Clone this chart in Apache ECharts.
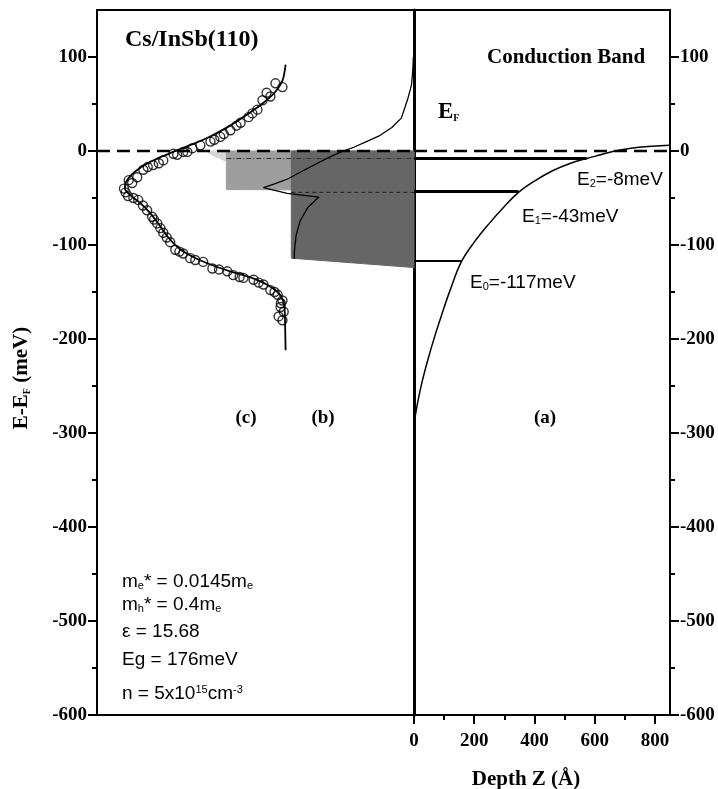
<!DOCTYPE html>
<html>
<head>
<meta charset="utf-8">
<script src="https://cdn.jsdelivr.net/npm/echarts@6/dist/echarts.min.js"></script>
<style>
html, body { margin: 0; padding: 0; background: #fff; }
#chart { width: 718px; height: 789px; }
</style>
</head>
<body>
<div id="chart"></div>
<script>
// tick values
const yMajor = [-600, -500, -400, -300, -200, -100, 0, 100]
const yMinor = [-550, -450, -350, -250, -150, -50, 50]
const xMajor = [0, 200, 400, 600, 800]
const xMinor = [100, 300, 500, 700]

// (c) photoemission spectrum: [intensity (arb.), E-EF meV]
const specPoints = [
  [56.3, 72], [58.5, 68], [53.5, 62], [54.7, 58], [52.2, 54], [50.6, 44], [49, 40], [47.8, 36],
  [45.3, 30], [44, 27], [42.1, 22], [40, 18], [38.9, 15], [37, 12], [35.8, 10], [32.6, 6],
  [30.1, 3], [28.5, -1], [27.2, -1], [24.1, -3], [25.3, -4], [20.9, -10], [19.5, -13], [17.7, -15],
  [16, -17], [14.6, -20], [12.7, -28], [10, -31], [11.1, -34], [8.5, -40], [9, -44], [9.8, -48],
  [11.5, -50], [13, -52], [14.5, -58], [15.8, -63], [17.4, -70], [18, -73], [19, -77], [20, -82],
  [20.9, -87], [22, -92], [23.1, -97], [24.7, -105], [26, -107], [27.2, -109], [29.4, -114], [31, -116],
  [33.5, -118], [36.4, -125], [38.5, -126], [41.1, -128], [43, -132], [45, -134], [46.2, -135], [49.4, -137],
  [51, -140], [52.5, -142], [54.7, -148], [56, -150], [57, -153], [58.5, -159], [58, -162], [57.9, -166],
  [58.9, -171], [57.3, -176], [58.5, -180]
]
// (c) fit curve
const specFit = [
  [59.5, 92], [58.5, 75], [56, 62], [52, 50], [47, 38], [42, 27], [36, 16], [30, 7], [24, -1],
  [19, -8], [14.5, -16], [11, -25], [9, -34], [8.8, -40], [10.5, -47], [13.5, -55], [16.5, -65],
  [19.5, -78], [22.5, -92], [26, -104], [30.5, -113], [36, -121], [42, -128], [48, -134], [53.5, -142],
  [57.5, -152], [59, -163], [59.3, -180], [59.4, -195], [59.5, -212]
]
// (b) charge density curve
const densityCurve = [
  [99.8, 100], [99.6, 85], [99.2, 70], [98, 55], [96, 35], [93, 25], [89, 16], [85, 10], [81, 4],
  [77, -1], [73, -7], [69, -14], [65, -21], [60, -30], [56, -35], [52.5, -39], [60, -45], [70, -49],
  [66.5, -60], [64, -75], [62.8, -90], [62.3, -105], [62.2, -115]
]
// (b) occupied subband areas (outlines)
const shadeE2 = [[34.8, 0], [40.8, 0], [40.8, -11], [36.7, -5], [34.8, -1]]
const shadeE1 = [[40.8, 0], [100, 0], [100, -42], [40.8, -41]]
const shadeE0 = [[61.3, 0], [100, 0], [100, -124], [61.3, -114]]
const levelDotE2 = [[40.8, -8], [100, -8]]
const levelDotE1 = [[61.3, -44], [100, -44]]

// (a) conduction band bending: [depth Å, E meV]
const bandCurve = [
  [0, -290], [13, -266], [28, -244], [47, -221], [68, -198], [90, -176], [120, -148], [157, -118],
  [200, -97], [250, -77], [300, -59], [347, -44], [400, -32], [460, -21], [520, -13], [573, -8],
  [620, -4], [667, 0], [720, 3], [790, 5], [850, 6]
]
const levelE2 = [[0, -8], [573, -8]]
const levelE1 = [[0, -43], [347, -43]]
const levelE0 = [[0, -117], [157, -117]]
const fermiLeft = [[0, 0], [100, 0]]
const fermiRight = [[0, 0], [850, 0]]

const serif = 'Liberation Serif'
const sans = 'Liberation Sans'
const tickLabel = { fontFamily: serif, fontWeight: 'bold', fontSize: 19, color: '#000' }
const noLine = { show: false, onZero: false }
const tickStyle = { color: '#000', width: 2 }

function polygonSeries (pts, fill, z) {
  return {
    type: 'custom',
    xAxisIndex: 0,
    yAxisIndex: 0,
    z: z,
    data: pts,
    renderItem: (params, api) => {
      if (params.dataIndex !== 0) return null
      return {
        type: 'polygon',
        shape: { points: pts.map(p => api.coord(p)) },
        style: { fill: fill, stroke: fill, lineWidth: 1 }
      }
    }
  }
}

function lineSeries (data, xi, yi, style, extra) {
  return Object.assign({
    type: 'line',
    xAxisIndex: xi,
    yAxisIndex: yi,
    data: data,
    showSymbol: false,
    symbol: 'none',
    lineStyle: Object.assign({ color: '#000', width: 1.3 }, style)
  }, extra || {})
}

function sub (t) { return '{s|' + t + '}' }
const subSans = { s: { fontFamily: sans, fontSize: 11, verticalAlign: 'bottom', lineHeight: 11 } }

const chart = echarts.init(document.getElementById('chart'))
chart.setOption({
  animation: false,
  backgroundColor: '#fff',
  grid: [
    { left: 97, top: 10, width: 317, height: 705, show: true, borderColor: '#000', borderWidth: 2 },
    { left: 414, top: 10, width: 256, height: 705, show: true, borderColor: '#000', borderWidth: 2 },
    // copies of the two panels that only carry the minor ticks
    { left: 97, top: 10, width: 317, height: 705 },
    { left: 414, top: 10, width: 256, height: 705 }
  ],
  xAxis: [
    { gridIndex: 0, type: 'value', min: 0, max: 100, axisLine: noLine, axisTick: { show: false }, axisLabel: { show: false }, splitLine: { show: false } },
    {
      gridIndex: 1, type: 'value', position: 'bottom', min: 0, max: 850,
      axisLine: { show: true, onZero: false, lineStyle: tickStyle },
      axisTick: { show: true, customValues: xMajor, length: 9, lineStyle: tickStyle },
      axisLabel: Object.assign({ customValues: xMajor, margin: 17 }, tickLabel),
      splitLine: { show: false }
    },
    { gridIndex: 2, type: 'value', min: 0, max: 100, axisLine: noLine, axisTick: { show: false }, axisLabel: { show: false }, splitLine: { show: false } },
    {
      gridIndex: 3, type: 'value', position: 'bottom', min: 0, max: 850,
      axisLine: noLine,
      axisTick: { show: true, customValues: xMinor, length: 5, lineStyle: tickStyle },
      axisLabel: { show: false },
      splitLine: { show: false }
    }
  ],
  yAxis: [
    {
      gridIndex: 0, type: 'value', position: 'left', min: -600, max: 150,
      axisLine: { show: true, onZero: false, lineStyle: tickStyle },
      axisTick: { show: true, customValues: yMajor, length: 9, lineStyle: tickStyle },
      axisLabel: Object.assign({ customValues: yMajor, margin: 10 }, tickLabel),
      splitLine: { show: false }
    },
    {
      gridIndex: 1, type: 'value', position: 'right', min: -600, max: 150,
      axisLine: { show: true, onZero: false, lineStyle: tickStyle },
      axisTick: { show: true, customValues: yMajor, length: 9, lineStyle: tickStyle },
      axisLabel: Object.assign({ customValues: yMajor, margin: 10 }, tickLabel),
      splitLine: { show: false }
    },
    {
      gridIndex: 1, type: 'value', position: 'left', min: -600, max: 150,
      axisLine: { show: true, onZero: false, lineStyle: { color: '#000', width: 3 } },
      axisTick: { show: false }, axisLabel: { show: false }, splitLine: { show: false }
    },
    {
      gridIndex: 2, type: 'value', position: 'left', min: -600, max: 150,
      axisLine: noLine,
      axisTick: { show: true, customValues: yMinor, length: 5, lineStyle: tickStyle },
      axisLabel: { show: false },
      splitLine: { show: false }
    },
    {
      gridIndex: 3, type: 'value', position: 'right', min: -600, max: 150,
      axisLine: noLine,
      axisTick: { show: true, customValues: yMinor, length: 5, lineStyle: tickStyle },
      axisLabel: { show: false },
      splitLine: { show: false }
    }
  ],
  series: [
    polygonSeries(shadeE2, '#d6d6d6', 1),
    polygonSeries(shadeE1, '#9e9e9e', 2),
    polygonSeries(shadeE0, '#666666', 3),
    lineSeries(levelDotE2, 0, 0, { color: '#333', width: 1, type: [5, 2, 1, 2] }, { z: 4 }),
    lineSeries(levelDotE1, 0, 0, { color: '#222', width: 1, type: [4, 3] }, { z: 4 }),
    lineSeries(densityCurve, 0, 0, { width: 1.3 }, { z: 5 }),
    {
      type: 'scatter',
      xAxisIndex: 0,
      yAxisIndex: 0,
      data: specPoints,
      symbol: 'circle',
      symbolSize: 9,
      z: 5,
      itemStyle: { color: 'rgba(255,255,255,0)', borderColor: '#000', borderWidth: 1.4 }
    },
    lineSeries(specFit, 0, 0, { width: 1.8 }, { smooth: 0.3, z: 6 }),
    lineSeries(fermiLeft, 0, 0, { width: 2.5, type: [13, 7] }, { z: 8 }),
    lineSeries(bandCurve, 1, 1, { width: 1.5 }, { smooth: 0.4, z: 5 }),
    lineSeries(levelE2, 1, 1, { width: 3 }, { z: 6 }),
    lineSeries(levelE1, 1, 1, { width: 3 }, { z: 6 }),
    lineSeries(levelE0, 1, 1, { width: 1.8 }, { z: 6 }),
    lineSeries(fermiRight, 1, 1, { width: 2.5, type: [13, 7] }, { z: 8 })
  ],
  graphic: [
    { type: 'text', x: 125, y: 40, style: { text: 'Cs/InSb(110)', font: 'bold 24px "Liberation Serif"', fill: '#000', verticalAlign: 'middle' } },
    { type: 'text', x: 487, y: 58, style: { text: 'Conduction Band', font: 'bold 21px "Liberation Serif"', fill: '#000', verticalAlign: 'middle' } },
    {
      type: 'text', x: 438, y: 112,
      style: { text: 'E' + sub('F'), font: 'bold 23px "Liberation Serif"', fill: '#000', verticalAlign: 'middle',
        rich: { s: { fontFamily: serif, fontWeight: 'bold', fontSize: 10, verticalAlign: 'bottom', lineHeight: 10 } } }
    },
    { type: 'text', x: 577, y: 180, style: { text: 'E' + sub('2') + '=-8meV', font: '19px "Liberation Sans"', fill: '#000', verticalAlign: 'middle', rich: subSans } },
    { type: 'text', x: 522, y: 217, style: { text: 'E' + sub('1') + '=-43meV', font: '19px "Liberation Sans"', fill: '#000', verticalAlign: 'middle', rich: subSans } },
    { type: 'text', x: 470, y: 283, style: { text: 'E' + sub('0') + '=-117meV', font: '19px "Liberation Sans"', fill: '#000', verticalAlign: 'middle', rich: subSans } },
    { type: 'text', x: 246, y: 418, style: { text: '(c)', font: 'bold 19px "Liberation Serif"', fill: '#000', align: 'center', verticalAlign: 'middle' } },
    { type: 'text', x: 323, y: 418, style: { text: '(b)', font: 'bold 19px "Liberation Serif"', fill: '#000', align: 'center', verticalAlign: 'middle' } },
    { type: 'text', x: 545, y: 418, style: { text: '(a)', font: 'bold 19px "Liberation Serif"', fill: '#000', align: 'center', verticalAlign: 'middle' } },
    { type: 'text', x: 122, y: 582, style: { text: 'm' + sub('e') + '* = 0.0145m' + sub('e'), font: '19px "Liberation Sans"', fill: '#000', verticalAlign: 'middle', rich: subSans } },
    { type: 'text', x: 122, y: 605, style: { text: 'm' + sub('h') + '* = 0.4m' + sub('e'), font: '19px "Liberation Sans"', fill: '#000', verticalAlign: 'middle', rich: subSans } },
    { type: 'text', x: 122, y: 632, style: { text: 'ε = 15.68', font: '19px "Liberation Sans"', fill: '#000', verticalAlign: 'middle' } },
    { type: 'text', x: 122, y: 660, style: { text: 'Eg = 176meV', font: '19px "Liberation Sans"', fill: '#000', verticalAlign: 'middle' } },
    {
      type: 'text', x: 122, y: 694,
      style: { text: 'n = 5x10{p|15}cm{p|-3}', font: '19px "Liberation Sans"', fill: '#000', verticalAlign: 'middle',
        rich: { p: { fontFamily: sans, fontSize: 11, verticalAlign: 'top', lineHeight: 11 } } }
    },
    {
      type: 'text', x: 22, y: 378, rotation: Math.PI / 2,
      style: { text: 'E-E' + sub('F') + ' (meV)', font: 'bold 21px "Liberation Serif"', fill: '#000', align: 'center', verticalAlign: 'middle',
        rich: { s: { fontFamily: serif, fontWeight: 'bold', fontSize: 10, verticalAlign: 'bottom', lineHeight: 10 } } }
    },
    { type: 'text', x: 526, y: 780, style: { text: 'Depth Z (Å)', font: 'bold 21px "Liberation Serif"', fill: '#000', align: 'center', verticalAlign: 'middle' } }
  ]
})
</script>
</body>
</html>
